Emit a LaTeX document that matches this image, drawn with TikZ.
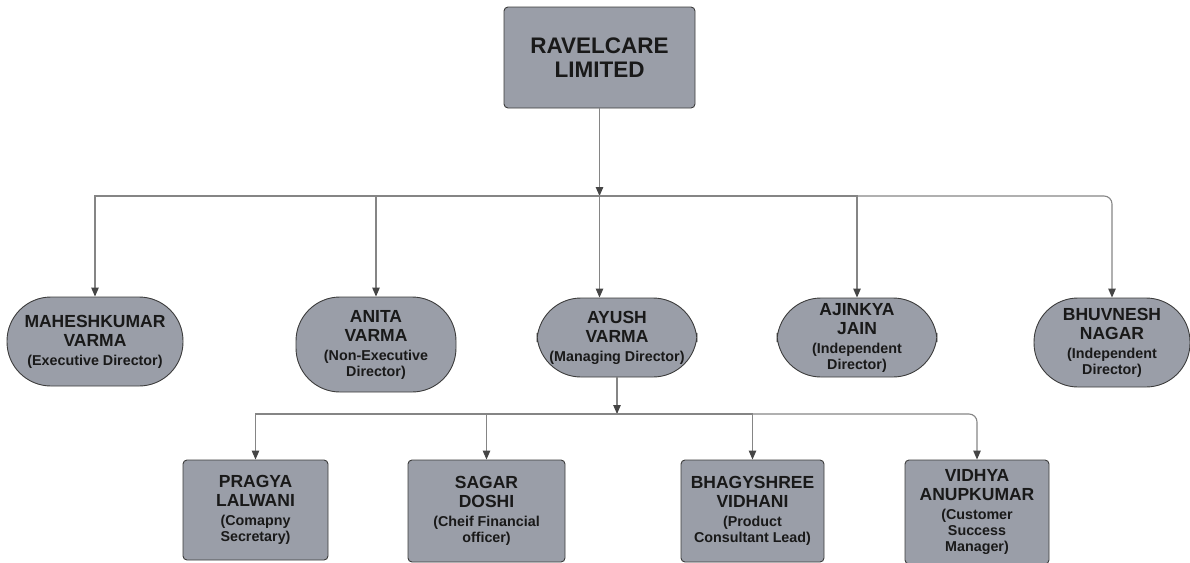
\documentclass[tikz,border=0pt]{standalone}
\usepackage{fontspec}
\setmainfont{Liberation Sans}
\usetikzlibrary{arrows.meta}

\definecolor{boxgray}{HTML}{9A9EA8}
\definecolor{edgegray}{HTML}{3C3C3C}
\definecolor{linegray}{HTML}{858585}
\definecolor{tipgray}{HTML}{454545}

\newcommand{\rolefont}{\fontsize{14.3}{16}\selectfont}

\begin{document}
\begin{tikzpicture}[
		x=1pt, y=-1pt,
		card/.style={draw=edgegray, line width=0.9pt, fill=boxgray, text=black!90, align=center, inner sep=0pt,
			font=\bfseries\fontsize{17.5}{19}\selectfont},
		company/.style={card, rounded corners=4pt, font=\bfseries\fontsize{22.5}{24}\selectfont},
		director/.style={card, rounded corners=44pt},
		staff/.style={card, rounded corners=4pt},
		link/.style={draw=linegray, line width=1.1pt, -{Triangle[length=9pt, width=7.5pt, color=tipgray]}},
	]
		\useasboundingbox (0,0) rectangle (1190,562);
		\clip (0,0) rectangle (1190,562);

		\node[company, minimum width=191pt, minimum height=101pt] (ravel) at (599.5,57.5)
			{RAVELCARE\\LIMITED};

		\node[director, minimum width=176pt, minimum height=89pt] (mahesh) at (95,341.5)
			{MAHESHKUMAR\\VARMA\\\rolefont (Executive Director)};
		\node[director, minimum width=160pt, minimum height=95pt] (anita) at (376,344.5)
			{ANITA\\VARMA\\\rolefont (Non-Executive\\[-3pt]\rolefont Director)};
		\node[director, minimum width=160pt, minimum height=79pt] (ayush) at (617,337.5)
			{AYUSH\\VARMA\\\rolefont (Managing Director)};
		\node[director, minimum width=160pt, minimum height=79pt] (ajinkya) at (857,337.5)
			{AJINKYA\\JAIN\\\rolefont (Independent\\[-3pt]\rolefont Director)};
		\node[director, minimum width=156pt, minimum height=89pt] (bhuvnesh) at (1112,342.5)
			{BHUVNESH\\NAGAR\\\rolefont (Independent\\[-3pt]\rolefont Director)};

		\node[staff, minimum width=145pt, minimum height=100pt] (pragya) at (255.5,510)
			{PRAGYA\\LALWANI\\\rolefont (Comapny\\[-3pt]\rolefont Secretary)};
		\node[staff, minimum width=157pt, minimum height=102pt] (sagar) at (486.5,511)
			{SAGAR\\DOSHI\\\rolefont (Cheif Financial\\[-3pt]\rolefont officer)};
		\node[staff, minimum width=143pt, minimum height=102pt] (bhagyshree) at (752.5,511)
			{BHAGYSHREE\\VIDHANI\\\rolefont (Product\\[-3pt]\rolefont Consultant Lead)};
		\node[staff, minimum width=144pt, minimum height=104pt] (vidhya) at (977,512)
			{VIDHYA\\ANUPKUMAR\\\rolefont (Customer\\[-3pt]\rolefont Success\\[-3pt]\rolefont Manager)};

		% board level
		\coordinate (board) at (ravel.south |- 0,196);
		\draw[link] (ravel.south) -- (board);
		\draw[link] (board) -| (mahesh.north);
		\draw[link] (board) -| (anita.north);
		\draw[link] (board) -- (board |- ayush.north);
		\draw[link] (board) -| (ajinkya.north);
		\draw[link, rounded corners=8pt] (board) -| (bhuvnesh.north);

		% management level
		\coordinate (team) at (ayush.south |- 0,414);
		\draw[link] (ayush.south) -- (team);
		\draw[link] (team) -| (pragya.north);
		\draw[link] (team) -| (sagar.north);
		\draw[link] (team) -| (bhagyshree.north);
		\draw[link, rounded corners=8pt] (team) -| (vidhya.north);
	\end{tikzpicture}
\end{document}
